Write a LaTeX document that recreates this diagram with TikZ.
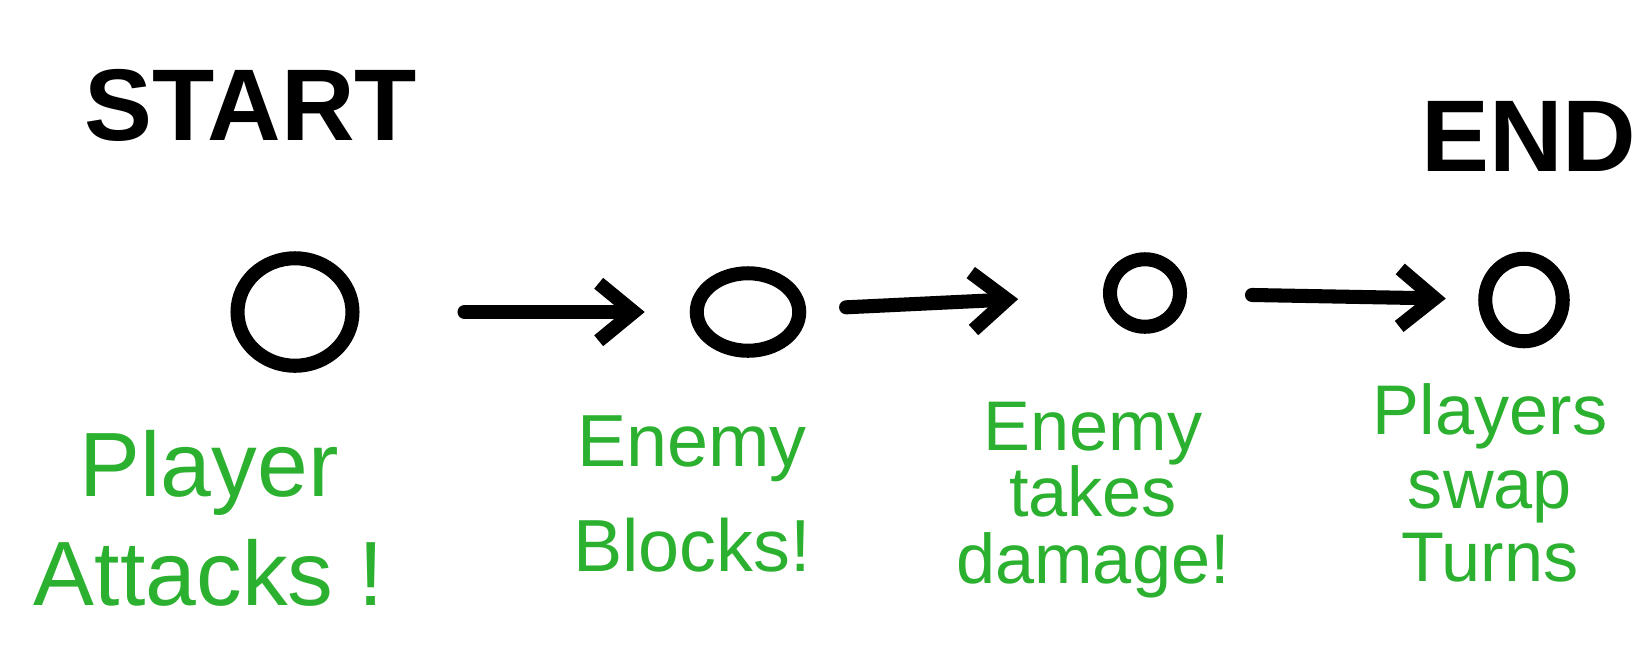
\documentclass[tikz,border=0pt]{standalone}
\usepackage{fontspec}
\setmainfont{Liberation Sans}
\usepackage{tikz}
\usetikzlibrary{shapes.geometric, arrows, arrows.meta, positioning}

\definecolor{penGreen}{HTML}{2BB02F}

\begin{document}
\begin{tikzpicture}[
    x=0.02cm, y=-0.02cm,
    stage/.style={ellipse, draw, line width=8pt, inner sep=0pt},
    title/.style={font=\fontsize{58}{60}\selectfont\bfseries, text=black},
    label/.style={align=center, text=penGreen, font=\fontsize{40}{58}\selectfont},
    arrow/.style={-{Straight Barb[length=0.7cm, width=1.15cm]}, line width=8pt, line cap=round}
]
    \useasboundingbox (0,0) rectangle (1640,664);

    % Start and end
    \node[title] (start) at (251,105) {START};
    \node[title] (end) at (1529,136) {END};

    % Stages
    \node[stage, minimum width=2.3cm, minimum height=2.15cm] (attack) at (295,312) {};
    \node[stage, minimum width=2.05cm, minimum height=1.55cm] (block) at (748,312) {};
    \node[stage, minimum width=1.4cm, minimum height=1.35cm] (damage) at (1145,293) {};
    \node[stage, minimum width=1.55cm, minimum height=1.65cm] (swap) at (1524,300) {};

    % Labels
    \node[label, font=\fontsize{52}{62}\selectfont] (attackText) at (209,518) {Player\\Attacks !};
    \node[label, font=\fontsize{42}{60}\selectfont] (blockText) at (692,494) {Enemy\\Blocks!};
    \node[label, font=\fontsize{40}{38}\selectfont] (damageText) at (1093,500) {Enemy\\takes\\damage!};
    \node[label, font=\fontsize{40}{42}\selectfont] (swapText) at (1490,483) {Players\\swap\\Turns};

    % Flow
    \draw[arrow, shorten <=2.1cm, shorten >=0.9cm] (attack) -- (block);
    \draw[arrow, shorten <=0.8cm, shorten >=1.7cm] (block) -- (damage);
    \draw[arrow, shorten <=1.3cm, shorten >=0.65cm] (damage) -- (swap);
\end{tikzpicture}
\end{document}
